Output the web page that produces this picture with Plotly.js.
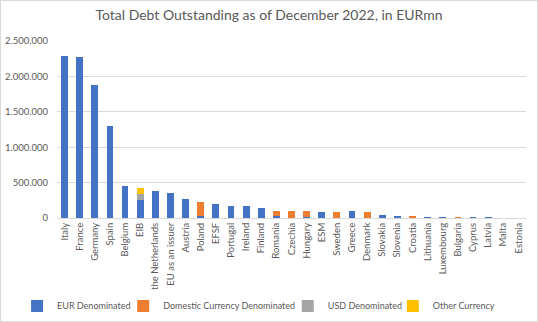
<!DOCTYPE html>
<html>
<head>
<meta charset="utf-8">
<script src="https://cdn.plot.ly/plotly-3.0.1.min.js"></script>
<style>
html,body{margin:0;padding:0;background:#fff;}
#chart{width:536px;height:320px;border:1px solid #d9d9d9;}
</style>
</head>
<body>
<div id="chart"></div>
<script>
const categories = ["Italy","France","Germany","Spain","Belgium","EIB","the Netherlands","EU as an issuer","Austria","Poland","EFSF","Portugal","Ireland","Finland","Romania","Czechia","Hungary","ESM","Sweden","Greece","Denmark","Slovakia","Slovenia","Croatia","Lithuania","Luxembourg","Bulgaria","Cyprus","Latvia","Malta","Estonia"];
const eurDenominated = [2290000,2280000,1880000,1300000,445000,250000,385000,350000,270000,30000,194000,170000,165000,140000,30000,2000,20000,90000,2000,92000,3000,45000,33000,5000,18000,15000,5000,10000,10000,7000,1000];
const domesticDenominated = [0,0,0,0,0,0,0,0,0,190000,0,0,0,0,65000,100000,75000,0,85000,0,78000,0,0,25000,0,0,8000,0,0,0,0];
const usdDenominated = [0,0,0,0,10000,90000,0,0,0,3000,0,0,0,0,8000,0,6000,0,0,0,0,3000,0,0,0,0,0,0,0,0,0];
const otherCurrency = [0,0,0,0,0,85000,0,0,0,0,0,0,0,0,0,0,0,0,0,0,0,0,0,0,0,0,0,0,0,0,0];
const seriesNames = ['EUR Denominated','Domestic Currency Denominated','USD Denominated','Other Currency'];

const mk = (name, y, color, lg) => ({type:'bar', name:name, x:categories, y:y, marker:{color:color}, legend:lg, hoverinfo:'x+y+name'});
const data = [
  mk(seriesNames[0], eurDenominated, '#4472C4', 'legend'),
  mk(seriesNames[1], domesticDenominated, '#ED7D31', 'legend2'),
  mk(seriesNames[2], usdDenominated, '#A5A5A5', 'legend3'),
  mk(seriesNames[3], otherCurrency, '#FFC000', 'legend4')
];
const lg = (x) => ({xref:'container', yref:'container', x:x, xanchor:'left', y:0.047, yanchor:'middle', orientation:'h', font:{size:9, color:'#595959'}, itemwidth:30, bgcolor:'rgba(0,0,0,0)'});
const layout = {
  width:536, height:320,
  margin:{l:56, r:11, t:40, b:103},
  paper_bgcolor:'#fff', plot_bgcolor:'#fff',
  barmode:'stack', bargap:0.55,
  separators:',.',
  font:{family:'Lato, "Open Sans", sans-serif', size:9.5, color:'#595959'},
  title:{text:'Total Debt Outstanding as of December 2022, in EURmn', font:{size:14, color:'#595959'}, x:0.5, xanchor:'center', y:0.972, yanchor:'top'},
  xaxis:{tickangle:-90, showgrid:false, showline:true, linecolor:'#d9d9d9', linewidth:1, ticks:'', tickfont:{size:9.5, color:'#595959'}, automargin:false},
  yaxis:{range:[0,2500000], tickvals:[0,500000,1000000,1500000,2000000,2500000], tickformat:',d', showgrid:true, gridcolor:'#d9d9d9', gridwidth:1, zeroline:false, showline:false, ticks:'', ticklabelstandoff:8, tickfont:{size:9.5, color:'#595959'}, automargin:false},
  showlegend:true,
  legend:lg(0.03), legend2:lg(0.228), legend3:lg(0.535), legend4:lg(0.731)
};
Plotly.newPlot('chart', data, layout, {displayModeBar:false, staticPlot:true});
</script>
</body>
</html>
